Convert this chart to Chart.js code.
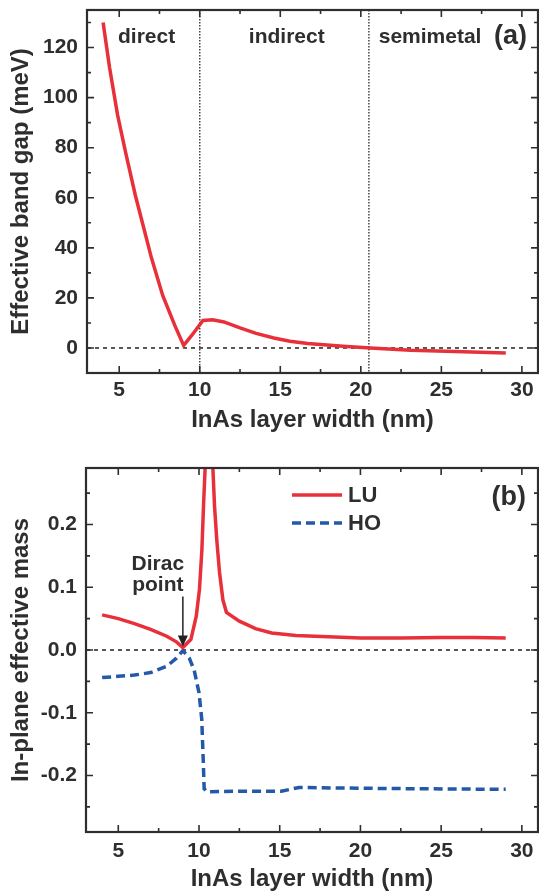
<!DOCTYPE html>
<html>
<head>
<meta charset="utf-8">
<script src="https://cdn.jsdelivr.net/npm/chart.js@4.4.0/dist/chart.umd.min.js"></script>
<style>
  html, body { margin: 0; padding: 0; background: #fff; }
  #wrap { position: relative; width: 539px; height: 895px; }
  .box { position: absolute; left: 0; width: 539px; }
  #boxA { top: 0; height: 440px; }
  #boxB { top: 440px; height: 455px; }
</style>
</head>
<body>
<div id="wrap">
  <div class="box" id="boxA"><canvas id="gapChart" width="539" height="440"></canvas></div>
  <div class="box" id="boxB"><canvas id="massChart" width="539" height="455"></canvas></div>
</div>
<script>
// panel (a): effective band gap (meV) vs InAs layer width (nm)
const gapWidth = [4.0, 4.4, 4.9, 5.4, 6.0, 6.4, 7.0, 7.7, 8.45, 9.0, 9.5, 10.2, 10.8, 11.5, 12.5, 13.5, 14.6, 15.6, 16.7, 18.9, 20.6, 23.1, 25.3, 29.0];
const gapValue = [130, 112, 93, 78, 61, 51, 36, 21, 9, 1, 5, 11, 11.3, 10.4, 8, 5.8, 4, 2.7, 1.8, 0.7, 0, -0.9, -1.3, -2.0];
const regionBounds = [10, 20.5];
const regionNames = ['direct', 'indirect', 'semimetal'];

// panel (b): in-plane effective mass
const luWidth = [4.0, 5.0, 6.0, 7.0, 8.0, 8.6, 9.0, 9.5, 9.83, 10.03, 10.18, 10.28, 10.38, 10.62, 10.86, 10.96, 11.1, 11.27, 11.48, 11.7, 12.5, 13.5, 14.5, 16.0, 18.0, 20.0, 22.5, 25.0, 27.0, 29.0];
const luMass = [0.056, 0.050, 0.042, 0.033, 0.022, 0.013, 0.004, 0.017, 0.054, 0.097, 0.16, 0.23, 0.29, 3.0, 0.29, 0.23, 0.176, 0.124, 0.08, 0.06, 0.046, 0.034, 0.027, 0.023, 0.021, 0.019, 0.019, 0.020, 0.020, 0.019];
const hoWidth = [4.0, 5.0, 6.0, 7.0, 8.0, 8.6, 9.0, 9.4, 9.7, 10.0, 10.17, 10.26, 10.32, 10.5, 12.5, 15.1, 16.2, 19.0, 23.0, 29.0];
const hoMass = [-0.044, -0.042, -0.040, -0.036, -0.026, -0.013, -0.001, -0.013, -0.032, -0.068, -0.11, -0.174, -0.221, -0.226, -0.225, -0.225, -0.219, -0.220, -0.221, -0.222];
const seriesNames = ['LU', 'HO'];

const xTicks = [5, 10, 15, 20, 25, 30];
const gapTicks = [0, 20, 40, 60, 80, 100, 120];
const massTicks = [-0.2, -0.1, 0.0, 0.1, 0.2];

const RED = '#e8303a';
const BLUE = '#2458a8';
const INK = '#2e2e2e';
const FAMILY = "'Liberation Sans', Arial, Helvetica, sans-serif";
const bold = size => ({ family: FAMILY, size: size, weight: 'bold' });

Chart.defaults.color = INK;
Chart.defaults.animation = false;

function toPoints(xs, ys) {
    return xs.map((x, i) => ({ x: x, y: ys[i] }));
}

// midpoints between major ticks, extended one step each side
function minorsOf(majors, min, max) {
    const step = majors[1] - majors[0];
    const out = [];
    for (let v = majors[0] - step / 2; v <= majors[majors.length - 1] + step / 2 + 1e-9; v += step) {
        if (v > min + 1e-9 && v < max - 1e-9) out.push(v);
    }
    return out;
}

// box frame with inward ticks on all four sides
function drawFrame(chart, yMajors) {
    const { ctx, chartArea: a, scales } = chart;
    const xs = scales.x, ys = scales.y;
    ctx.save();
    ctx.strokeStyle = INK;
    ctx.lineWidth = 1.6;
    ctx.beginPath();
    const seg = (x1, y1, x2, y2) => { ctx.moveTo(x1, y1); ctx.lineTo(x2, y2); };
    xTicks.forEach(v => {
        const p = xs.getPixelForValue(v);
        seg(p, a.bottom, p, a.bottom - 7);
        seg(p, a.top, p, a.top + 7);
    });
    minorsOf(xTicks, xs.min, xs.max).forEach(v => {
        const p = xs.getPixelForValue(v);
        seg(p, a.bottom, p, a.bottom - 4);
        seg(p, a.top, p, a.top + 4);
    });
    yMajors.forEach(v => {
        const p = ys.getPixelForValue(v);
        seg(a.left, p, a.left + 7, p);
        seg(a.right, p, a.right - 7, p);
    });
    minorsOf(yMajors, ys.min, ys.max).forEach(v => {
        const p = ys.getPixelForValue(v);
        seg(a.left, p, a.left + 4, p);
        seg(a.right, p, a.right - 4, p);
    });
    ctx.stroke();
    ctx.lineWidth = 2.2;
    ctx.strokeRect(a.left, a.top, a.right - a.left, a.bottom - a.top);
    ctx.restore();
}

function drawZeroLine(chart) {
    const { ctx, chartArea: a, scales } = chart;
    const p = scales.y.getPixelForValue(0);
    ctx.save();
    ctx.strokeStyle = '#222';
    ctx.lineWidth = 1.5;
    ctx.setLineDash([4, 4]);
    ctx.beginPath();
    ctx.moveTo(a.left, p);
    ctx.lineTo(a.right, p);
    ctx.stroke();
    ctx.restore();
}

function scaleOpts(opts) {
    return {
        type: 'linear',
        min: opts.min,
        max: opts.max,
        afterBuildTicks: s => { s.ticks = opts.ticks.map(v => ({ value: v })); },
        afterFit: s => {
            opts.fit(s);
            // no extra room for half-labels at the ends
            s.paddingTop = 0; s.paddingBottom = 0;
            s.paddingLeft = 0; s.paddingRight = 0;
        },
        grid: { display: false, drawTicks: false, tickLength: 0 },
        border: { display: false },
        ticks: { font: bold(21), color: INK, padding: opts.pad, callback: opts.fmt },
        title: { display: true, text: opts.title, font: bold(24), color: INK, padding: opts.titlePad }
    };
}

// ---- panel (a)
const gapDecor = {
    id: 'gapDecor',
    beforeDatasetsDraw(chart) {
        const { ctx, chartArea: a, scales } = chart;
        drawZeroLine(chart);
        ctx.save();
        ctx.strokeStyle = '#444';
        ctx.lineWidth = 1.5;
        ctx.setLineDash([1.5, 1.5]);
        regionBounds.forEach(v => {
            const p = scales.x.getPixelForValue(v);
            ctx.beginPath();
            ctx.moveTo(p, a.top);
            ctx.lineTo(p, a.bottom);
            ctx.stroke();
        });
        ctx.restore();
    },
    afterDraw(chart) {
        const { ctx, chartArea: a, scales } = chart;
        drawFrame(chart, gapTicks);
        ctx.save();
        ctx.fillStyle = INK;
        ctx.textBaseline = 'middle';
        ctx.textAlign = 'center';
        ctx.font = 'bold 21px ' + FAMILY;
        const labelX = [6.7, 15.4, 24.3];
        regionNames.forEach((name, i) => {
            ctx.fillText(name, scales.x.getPixelForValue(labelX[i]), a.top + 27);
        });
        ctx.textAlign = 'right';
        ctx.font = 'bold 27px ' + FAMILY;
        ctx.fillText('(a)', a.right - 11, a.top + 27);
        ctx.restore();
    }
};

new Chart(document.getElementById('gapChart'), {
    type: 'line',
    data: {
        datasets: [{
            label: 'gap',
            data: toPoints(gapWidth, gapValue),
            borderColor: RED,
            borderWidth: 3.5,
            pointRadius: 0,
            tension: 0,
            clip: 0
        }]
    },
    options: {
        responsive: false,
        layout: { padding: { top: 10, right: 1, left: 0, bottom: 0 } },
        plugins: { legend: { display: false }, tooltip: { enabled: false } },
        scales: {
            x: scaleOpts({
                min: 3, max: 31, ticks: xTicks, pad: 5,
                fit: s => { s.height = 67; },
                title: 'InAs layer width (nm)', titlePad: { top: 0, bottom: 5 }
            }),
            y: scaleOpts({
                min: -10, max: 135, ticks: gapTicks, pad: 9,
                fit: s => { s.width = 87; },
                fmt: v => String(v),
                title: 'Effective band gap (meV)', titlePad: { top: 7, bottom: 0 }
            })
        }
    },
    plugins: [gapDecor]
});

// ---- panel (b)
const massDecor = {
    id: 'massDecor',
    beforeDatasetsDraw(chart) {
        drawZeroLine(chart);
    },
    afterDraw(chart) {
        const { ctx, chartArea: a, scales } = chart;
        drawFrame(chart, massTicks);
        ctx.save();
        // legend
        const sets = chart.data.datasets;
        const lx = 292, ly = a.top + 27;
        sets.forEach((ds, i) => {
            const y = ly + i * 28;
            ctx.strokeStyle = ds.borderColor;
            ctx.lineWidth = ds.borderWidth;
            ctx.setLineDash(ds.borderDash || []);
            ctx.beginPath();
            ctx.moveTo(lx, y);
            ctx.lineTo(lx + 50, y);
            ctx.stroke();
            ctx.setLineDash([]);
            ctx.fillStyle = INK;
            ctx.font = 'bold 22px ' + FAMILY;
            ctx.textAlign = 'left';
            ctx.textBaseline = 'middle';
            ctx.fillText(seriesNames[i], lx + 56, y + 1);
        });
        ctx.font = 'bold 27px ' + FAMILY;
        ctx.textAlign = 'right';
        ctx.fillText('(b)', a.right - 12, a.top + 30);
        // Dirac point arrow
        const tipX = scales.x.getPixelForValue(9.0);
        const tipY = scales.y.getPixelForValue(0.004) - 1;
        ctx.strokeStyle = '#222';
        ctx.fillStyle = '#222';
        ctx.lineWidth = 1.5;
        ctx.beginPath();
        ctx.moveTo(tipX, tipY - 50);
        ctx.lineTo(tipX, tipY - 8);
        ctx.stroke();
        ctx.beginPath();
        ctx.moveTo(tipX, tipY);
        ctx.lineTo(tipX - 5, tipY - 11);
        ctx.lineTo(tipX + 5, tipY - 11);
        ctx.closePath();
        ctx.fill();
        ctx.fillStyle = INK;
        ctx.font = 'bold 21px ' + FAMILY;
        ctx.textAlign = 'center';
        ctx.fillText('Dirac', tipX - 25, tipY - 82);
        ctx.fillText('point', tipX - 25, tipY - 61);
        ctx.restore();
    }
};

new Chart(document.getElementById('massChart'), {
    type: 'line',
    data: {
        datasets: [{
            label: seriesNames[0],
            data: toPoints(luWidth, luMass),
            borderColor: RED,
            borderWidth: 3.5,
            pointRadius: 0,
            tension: 0,
            clip: 0
        }, {
            label: seriesNames[1],
            data: toPoints(hoWidth, hoMass),
            borderColor: BLUE,
            borderWidth: 3.5,
            borderDash: [9, 5],
            pointRadius: 0,
            tension: 0,
            clip: 0
        }]
    },
    options: {
        responsive: false,
        layout: { padding: { top: 28, right: 1, left: 0, bottom: 0 } },
        plugins: { legend: { display: false }, tooltip: { enabled: false } },
        scales: {
            x: scaleOpts({
                min: 3, max: 31, ticks: xTicks, pad: 7,
                fit: s => { s.height = 63; },
                title: 'InAs layer width (nm)', titlePad: { top: 0, bottom: 1 }
            }),
            y: scaleOpts({
                min: -0.29, max: 0.29, ticks: massTicks, pad: 9,
                fit: s => { s.width = 86; },
                fmt: v => v.toFixed(1),
                title: 'In-plane effective mass', titlePad: { top: 7, bottom: 0 }
            })
        }
    },
    plugins: [massDecor]
});
</script>
</body>
</html>
